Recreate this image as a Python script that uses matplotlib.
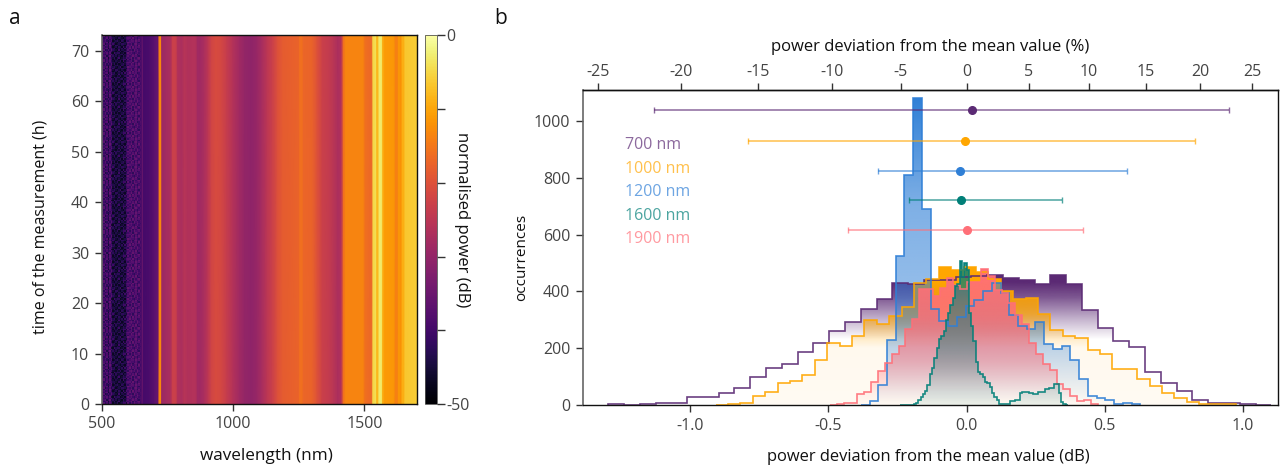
import numpy as np
import matplotlib
matplotlib.use('Agg')
import matplotlib.pyplot as plt
from matplotlib.patches import Polygon
from matplotlib.colors import to_rgb

plt.rcParams['font.family'] = ['Open Sans', 'DejaVu Sans']
plt.rcParams['axes.unicode_minus'] = False

W, H = 1284, 466

# panel a: spectrum over time, power in dB read at these wavelengths
profile_nm = [650, 652, 655, 658, 680, 700, 716, 719, 726, 729, 745, 762, 770, 782, 790, 804, 815, 830, 845,
              858, 865, 874, 890, 905, 918, 935, 955, 975, 1000, 1025, 1045, 1070, 1090, 1110, 1130, 1150,
              1170, 1190, 1250, 1254, 1264, 1268, 1300, 1320, 1340, 1365, 1385, 1400, 1412, 1420, 1428,
              1495, 1503, 1528, 1533, 1544, 1547, 1553, 1556, 1566, 1570, 1578, 1612, 1618, 1626, 1630,
              1640, 1644, 1650, 1655, 1700]
profile_db = [-40, -40, -33, -39.5, -39, -37, -35, -14, -13, -29, -28, -27, -23, -23, -26.5, -27, -25.5,
              -26.5, -26, -26, -28.5, -28.5, -27, -25, -22, -21, -21.5, -23.5, -26, -28.5, -30, -30.5,
              -29.5, -27.5, -25, -23, -20, -18.5, -17.5, -16, -16, -17, -17.5, -20, -23, -24, -25.5, -27,
              -26, -16, -13.5, -13.5, -16, -17, -5, -4, -8, -8, -3, -3, -9, -11, -11.5, -14, -14, -11.5,
              -12, -9, -9, -6.5, -6]

# speckle below 650 nm, one digit per cell: -47 dB + 1.6 dB per step
noise_rows = [
    "46352640213012441636475564",
    "53461531302401325457364675",
    "35624723120210314645756436",
    "64353452031123023564647357",
    "25463610423301204756435646",
    "53642541102130134367564754",
    "46235363210402213645375646",
    "34561452301213042574656347",
    "65342630120320415463746565",
    "43652741033102103657456374",
    "56243524201213321546367456",
    "35461632310240123765546437",
    "64532450123103204356647565",
    "24635361302012314547536476",
    "53462542210321025664745356",
    "46353631021130413456367547",
]
noise_start = 500
noise_stop = 650
time_stop = 73

wavelength_ticks = [500, 1000, 1500]
time_ticks = [0, 10, 20, 30, 40, 50, 60, 70]
power_ticks = [-50, -40, -30, -20, -10, 0]

# panel b: histograms, first bin edge and bin width in dB
purple_start, purple_width = -1.296, 0.0571
purple_counts = [6, 0, 5, 9, 9, 28, 30, 42, 62, 100, 130, 145, 186, 218, 261, 294, 339, 374, 429, 425,
                 440, 440, 450, 455, 459, 447, 442, 426, 458, 426, 335, 271, 227, 205, 117, 80, 49, 19,
                 9, 9, 6, 2]
orange_start, orange_width = -0.9078, 0.04485
orange_counts = [2, 5, 8, 34, 48, 78, 84, 108, 158, 218, 207, 243, 301, 286, 314, 347, 431, 444, 486,
                 476, 486, 469, 444, 400, 373, 376, 320, 265, 245, 238, 194, 179, 127, 129, 93, 68, 42,
                 27, 10, 3, 3, 3]
blue_start, blue_width = -0.3823, 0.03157
blue_counts = [2, 16, 71, 230, 525, 808, 1080, 689, 337, 296, 279, 312, 350, 370, 400, 430, 393, 317,
               280, 267, 292, 216, 197, 210, 158, 91, 32, 26, 18, 4, 9, 5]
coral_start, coral_width = -0.4944, 0.02484
coral_counts = [2, 6, 9, 9, 40, 46, 83, 121, 150, 179, 210, 268, 303, 408, 408, 385, 411, 448, 423, 410,
                434, 434, 478, 455, 405, 396, 360, 317, 286, 220, 180, 146, 125, 74, 56, 33, 14, 18, 4]
teal_start, teal_width = -0.2412, 0.00832
teal_counts = [1, 1, 1, 1, 1, 1, 4, 8, 17, 30, 39, 51, 71, 109, 130, 165, 200, 233, 244, 262, 300, 323,
               353, 378, 420, 425, 507, 452, 499, 476, 323, 280, 226, 153, 116, 110, 100, 83, 77, 66,
               42, 30, 17, 4, 3, 3, 3, 3, 15, 15, 18, 18, 42, 45, 45, 45, 42, 42, 40, 40, 48, 45, 45,
               56, 56, 62, 62, 74, 74, 42, 13, 3, 1]

labels = ['700 nm', '1000 nm', '1200 nm', '1600 nm', '1900 nm']
colors = ['#5b2a74', '#ffa600', '#2f7fd6', '#007f78', '#ff6f78']
err_height = [1036, 929, 825, 722, 616]
err_mean = [0.019, -0.004, -0.025, -0.02, 0.002]
err_low = [-1.129, -0.790, -0.322, -0.207, -0.428]
err_high = [0.95, 0.826, 0.580, 0.345, 0.420]
legend_y = [922, 838, 757, 673, 592]

db_ticks = [-1.0, -0.5, 0.0, 0.5, 1.0]
count_ticks = [0, 200, 400, 600, 800, 1000]
percent_ticks = [-25, -20, -15, -10, -5, 0, 5, 10, 15, 20, 25]
top_scale = 1.066


def axes_px(left, top, right, bottom):
    return [left / W, 1 - bottom / H, (right - left) / W, (bottom - top) / H]


def style_axis(ax):
    for s in ax.spines.values():
        s.set_linewidth(1.0)
        s.set_color('#111111')
    ax.spines['left'].set_color('#666666')
    ax.spines['left'].set_linewidth(1.2)
    ax.tick_params(length=5, width=1, color='#333333', labelcolor='#444444', labelsize=11.5, pad=4)


def gradient_hist(ax, start, width, counts, color, stops):
    edges = start + width * np.arange(len(counts) + 1)
    xs = np.repeat(edges, 2)
    ys = np.concatenate([[0], np.repeat(counts, 2), [0]])
    top = max(counts)
    heights = np.linspace(0, top, 256)
    alpha = np.interp(heights, [s[0] for s in stops], [s[1] for s in stops])
    img = np.zeros((256, 1, 4))
    img[:, 0, :3] = to_rgb(color)
    img[:, 0, 3] = alpha
    im = ax.imshow(img, origin='lower', aspect='auto', extent=[edges[0], edges[-1], 0, top],
                   interpolation='bilinear')
    clip = Polygon(np.column_stack([xs, ys]), closed=True, transform=ax.transData)
    im.set_clip_path(clip)
    ax.stairs(counts, edges, color=color, linewidth=1.2, alpha=0.9)


fig = plt.figure(figsize=(W / 100, H / 100), dpi=100)

# panel a
ax_a = fig.add_axes(axes_px(101.7, 35.5, 417, 404))
noise = -47 + 1.6 * np.array([[int(c) for c in row] for row in noise_rows], dtype=float)
noise = np.tile(noise, (15, 1))
noise_x = np.linspace(noise_start, noise_stop, noise.shape[1] + 1)
noise_y = np.linspace(0, time_stop, noise.shape[0] + 1)
mesh = ax_a.pcolormesh(noise_x, noise_y, noise, cmap='inferno', vmin=-50, vmax=0)
ax_a.pcolormesh(profile_nm, [0, time_stop], np.array([profile_db, profile_db]), cmap='inferno',
                vmin=-50, vmax=0, shading='gouraud')
ax_a.set_xlim(500, 1700)
ax_a.set_ylim(0, time_stop)
ax_a.set_xticks(wavelength_ticks)
ax_a.set_yticks(time_ticks)
style_axis(ax_a)
ax_a.set_xlabel('wavelength (nm)', fontsize=12.3, color='#111111', labelpad=11.5, x=0.522)
ax_a.set_ylabel('time of the measurement (h)', fontsize=11.5, color='#111111', y=0.48)
ax_a.yaxis.set_label_coords(-0.168, 0.48)

cax = fig.add_axes(axes_px(425, 35.5, 436.7, 404))
cbar = fig.colorbar(mesh, cax=cax, ticks=power_ticks)
cbar.ax.set_yticklabels(['-50', '', '', '', '', '0'])
cbar.outline.set_linewidth(0.6)
cbar.outline.set_edgecolor('#555555')
cax.tick_params(length=6, width=1, color='#333333', labelcolor='#444444', labelsize=11.5, pad=1)
cbar.set_label('normalised power (dB)', rotation=270, fontsize=12, color='#111111', labelpad=0)

# panel b
ax_b = fig.add_axes(axes_px(582.7, 90, 1277.7, 405.3))
gradient_hist(ax_b, purple_start, purple_width, purple_counts, colors[0],
              [(0, 0), (230, 0), (300, 0.35), (380, 0.8), (430, 1), (470, 1)])
gradient_hist(ax_b, orange_start, orange_width, orange_counts, colors[1],
              [(0, 0.05), (200, 0.07), (260, 0.35), (320, 0.75), (380, 0.9), (430, 1), (490, 1)])
gradient_hist(ax_b, blue_start, blue_width, blue_counts, colors[2],
              [(0, 0), (100, 0.15), (300, 0.48), (700, 0.62), (1080, 1)])
gradient_hist(ax_b, coral_start, coral_width, coral_counts, colors[4],
              [(0, 0), (40, 0.08), (150, 0.45), (300, 0.8), (480, 0.98)])
gradient_hist(ax_b, teal_start, teal_width, teal_counts, colors[3],
              [(0, 0.08), (80, 0.15), (200, 0.38), (350, 0.55), (507, 0.88)])

for i in range(len(labels)):
    ecolor = to_rgb(colors[i]) + (0.7,)
    ax_b.errorbar(err_mean[i], err_height[i],
                  xerr=[[err_mean[i] - err_low[i]], [err_high[i] - err_mean[i]]],
                  color=colors[i], ecolor=ecolor, elinewidth=1.1, capsize=2.5, capthick=1.0,
                  marker='o', markersize=5.5, zorder=5)
    ax_b.text(-1.236, legend_y[i] - 7, labels[i], color=colors[i], alpha=0.7, fontsize=11.5,
              va='center', ha='left', zorder=6)

ax_b.set_xlim(-1.388, 1.125)
ax_b.set_ylim(0, 1108)
ax_b.set_xticks(db_ticks)
ax_b.set_xticklabels(['-1.0', '-0.5', '0.0', '0.5', '1.0'])
ax_b.set_yticks(count_ticks)
style_axis(ax_b)
ax_b.set_xlabel('power deviation from the mean value (dB)', fontsize=11.9, color='#111111', labelpad=10.7, x=0.497)
ax_b.set_ylabel('occurrences', fontsize=11, color='#111111', labelpad=3, y=0.47)

ax_top = ax_b.twiny()
ax_top.set_xlim(ax_b.get_xlim())
ax_top.set_xticks([top_scale * 10 * np.log10(1 + p / 100) for p in percent_ticks])
ax_top.set_xticklabels([str(p) for p in percent_ticks])
style_axis(ax_top)
ax_top.tick_params(pad=2)
for side in ['left', 'right', 'bottom']:
    ax_top.spines[side].set_visible(False)
ax_top.set_xlabel('power deviation from the mean value (%)', fontsize=12, color='#111111', labelpad=9.7)

fig.text(9 / W, 1 - 18 / H, 'a', fontsize=15, color='#111111', va='center')
fig.text(494 / W, 1 - 18 / H, 'b', fontsize=15, color='#111111', va='center')

fig.savefig('out.png', dpi=100)
